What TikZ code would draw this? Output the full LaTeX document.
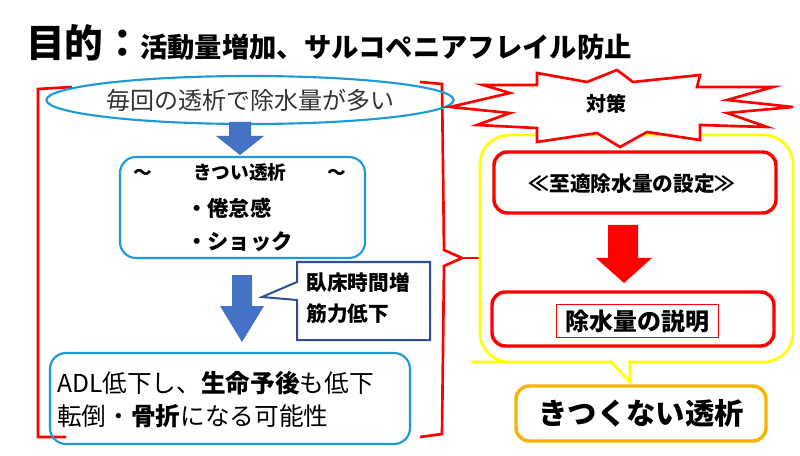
\documentclass[tikz,border=0pt]{standalone}
\usepackage{fontspec}
\setmainfont{Noto Sans CJK JP}
\usetikzlibrary{shapes.geometric}
\definecolor{lblue}{HTML}{1E9BD7}
\definecolor{ablue}{HTML}{4472C4}
\definecolor{navy}{HTML}{2F4F8F}
\definecolor{myred}{HTML}{FF0000}
\definecolor{myyel}{HTML}{FFFF00}
\definecolor{myor}{HTML}{F5B400}
\begin{document}
\begin{tikzpicture}[x=0.75pt,y=-0.75pt,
  bbox/.style={draw=lblue,line width=1.6pt,rounded corners=12pt},
  rbox/.style={draw=myred,line width=2.6pt,rounded corners=10pt},
  txt/.style={inner sep=0pt,font=\fontsize{14}{17}\selectfont}]
\fill[white] (0,0) rectangle (800,456);
% title
\node[anchor=base west,inner sep=0pt,font=\fontsize{29}{32}\selectfont\bfseries] (t1) at (26,58) {目的：};
\node[anchor=base west,inner sep=0pt,font=\fontsize{20.5}{24}\selectfont\bfseries] (t2) at (140,58) {活動量増加、サルコペニアフレイル防止};
% left bracket
\draw[myred,line width=2pt] (72,87) -- (38,89) -- (38,437) -- (66,437);
% right brace
\draw[myred,line width=2pt] (420,82) -- (442,84) -- (444,250) -- (462,258) -- (444,266) -- (442,434) -- (420,437);
\draw[myred,line width=2pt] (462,258) -- (480,258);
% ellipse
\node[draw=lblue,line width=1.6pt,ellipse,minimum width=366*0.75pt,minimum height=48*0.75pt,inner sep=0pt,font=\fontsize{18}{20}\selectfont,text=black!80] (e) at (250,100) {毎回の透析で除水量が多い};
% arrow 1
\fill[ablue] (229,122) -- (251,122) -- (251,136) -- (264,136) -- (240,155) -- (216,136) -- (229,136) -- cycle;
% box kitsui
\draw[bbox] (120,157) rectangle (365,258);
\node[txt,font=\fontsize{14}{17}\selectfont\bfseries] (k1) at (240,172) {～\hspace{2.2em}きつい透析\hspace{2.2em}～};
\node[txt,font=\fontsize{16}{18}\selectfont\bfseries,anchor=west] (k2) at (186,208) {・倦怠感};
\node[txt,font=\fontsize{16}{18}\selectfont\bfseries,anchor=west] (k3) at (186,242) {・ショック};
% arrow 2
\fill[ablue] (232,275) -- (252,275) -- (252,306) -- (264,306) -- (242,342) -- (220,306) -- (232,306) -- cycle;
% callout
\draw[navy,line width=1.5pt] (297,262) -- (430,262) -- (430,340) -- (297,340) -- (297,300) -- (262,297) -- (297,282) -- cycle;
\node[txt,font=\fontsize{15.5}{23}\selectfont\bfseries,align=left] (c) at (358,298) {臥床時間増\\筋力低下};
% bottom box
\draw[bbox] (50,353) rectangle (410,444);
\node[txt,anchor=west,font=\fontsize{18.5}{20}\selectfont] (b1) at (57,383) {ADL低下し、\textbf{生命予後}も低下};
\node[txt,anchor=west,font=\fontsize{18.5}{20}\selectfont] (b2) at (57,416) {転倒・\textbf{骨折}になる可能性};
% yellow callout
\draw[myyel,line width=2pt,rounded corners=22pt] (610,362) -- (500,362) -- (480,362) -- (480,135) -- (793,135) -- (793,362) -- (628,362);
\draw[myyel,line width=2pt] (610,361) -- (630,382) -- (630,361);
% star
\draw[myred,line width=2pt,fill=white]
 (450,107) -- (510,93) -- (483,85) -- (537,85) -- (537,73) -- (587,82) -- (617,70) -- (633,82) -- (700,75) -- (697,87) -- (773,87) -- (727,100) -- (793,107) -- (727,113) -- (767,127) -- (700,125) -- (700,140) -- (647,132) -- (620,147) -- (597,133) -- (537,142) -- (537,128) -- (477,125) -- (510,113) -- cycle;
\node[txt,font=\fontsize{15}{17}\selectfont\bfseries] (s) at (606,104) {対策};
% red boxes
\draw[rbox] (494,152) rectangle (776,213);
\node[txt,font=\fontsize{15.5}{18}\selectfont\bfseries] (r1) at (632,184) {≪至適除水量の設定≫};
\fill[myred] (608,225) -- (638,225) -- (638,258) -- (652,258) -- (624,283) -- (596,258) -- (608,258) -- cycle;
\draw[rbox] (492,292) rectangle (774,346);
\node[draw=myred,line width=0.5pt,inner sep=3pt,font=\fontsize{18}{20}\selectfont\bfseries,minimum width=162*0.75pt,minimum height=33*0.75pt] (r2) at (637,321) {除水量の説明};
% orange box
\draw[myor,line width=2.6pt,rounded corners=10pt] (516,386) rectangle (766,441);
\node[txt,font=\fontsize{22}{24}\selectfont\bfseries] (o) at (641,413) {きつくない透析};
\end{tikzpicture}
\end{document}
